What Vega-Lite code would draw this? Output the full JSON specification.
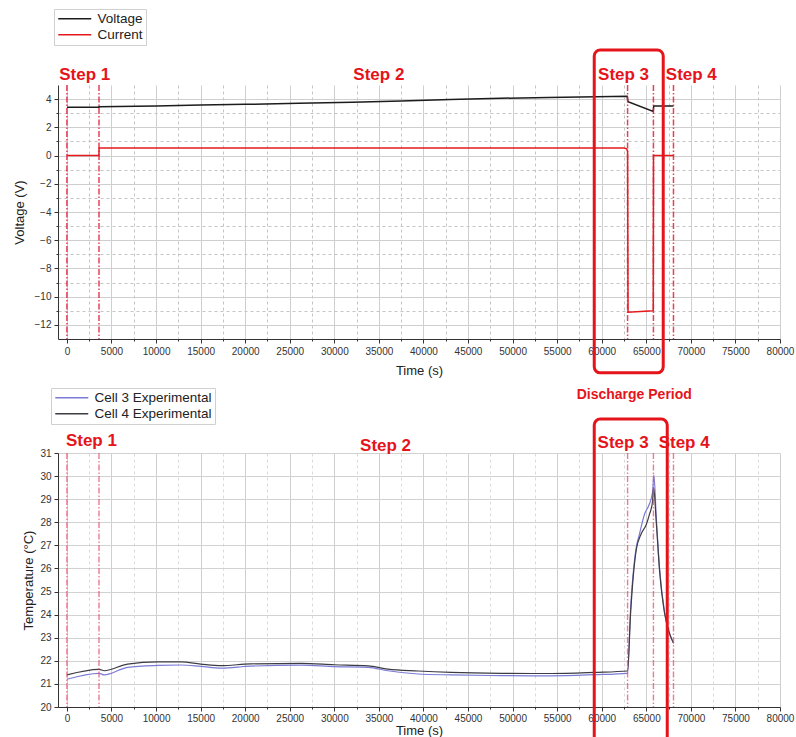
{
  "$schema": "https://vega.github.io/schema/vega-lite/v6.json",
  "padding": {"left": 13, "top": 8, "right": 4, "bottom": 0},
  "spacing": 10,
  "config": {
    "font": "Liberation Sans",
    "view": {"stroke": null},
    "axis": {
      "labelFontSize": 10,
      "labelColor": "#333333",
      "titleFontSize": 13,
      "titleFontWeight": "normal",
      "titleColor": "#222222",
      "domainColor": "#333333",
      "tickColor": "#333333",
      "gridColor": "#d2d2d2",
      "labelPadding": 3,
      "labelOverlap": false
    },
    "legend": {
      "strokeColor": "#d0d0d0",
      "padding": 3,
      "labelFontSize": 13.5,
      "labelColor": "#222222",
      "symbolType": "M-1,0H5",
      "symbolSize": 121,
      "symbolStrokeWidth": 1.5,
      "rowPadding": 1,
      "labelOffset": 27
    }
  },
  "resolve": {"scale": {"color": "independent"}, "legend": {"color": "independent"}},
  "datasets": {
    "steps": [{"t": 0}, {"t": 3600}, {"t": 62900}, {"t": 65800}, {"t": 68050}],
    "vi": [
      {"t": 0, "value": 3.42, "series": "Voltage"},
      {"t": 3590, "value": 3.42, "series": "Voltage"},
      {"t": 3610, "value": 3.46, "series": "Voltage"},
      {"t": 10000, "value": 3.52, "series": "Voltage"},
      {"t": 15000, "value": 3.58, "series": "Voltage"},
      {"t": 20000, "value": 3.63, "series": "Voltage"},
      {"t": 26000, "value": 3.7, "series": "Voltage"},
      {"t": 32000, "value": 3.78, "series": "Voltage"},
      {"t": 37500, "value": 3.87, "series": "Voltage"},
      {"t": 43000, "value": 3.97, "series": "Voltage"},
      {"t": 48700, "value": 4.06, "series": "Voltage"},
      {"t": 54000, "value": 4.12, "series": "Voltage"},
      {"t": 59400, "value": 4.17, "series": "Voltage"},
      {"t": 62850, "value": 4.21, "series": "Voltage"},
      {"t": 62950, "value": 3.82, "series": "Voltage"},
      {"t": 65780, "value": 3.12, "series": "Voltage"},
      {"t": 65830, "value": 3.52, "series": "Voltage"},
      {"t": 68050, "value": 3.52, "series": "Voltage"},
      {"t": 0, "value": 0, "series": "Current"},
      {"t": 3590, "value": 0, "series": "Current"},
      {"t": 3610, "value": 0.53, "series": "Current"},
      {"t": 62500, "value": 0.53, "series": "Current"},
      {"t": 62800, "value": 0.48, "series": "Current"},
      {"t": 62900, "value": 0.3, "series": "Current"},
      {"t": 62950, "value": -11.1, "series": "Current"},
      {"t": 65780, "value": -11.0, "series": "Current"},
      {"t": 65810, "value": 0, "series": "Current"},
      {"t": 68050, "value": 0, "series": "Current"}
    ],
    "temps": [
      {"t": 0, "temp": 21.2, "cell": "Cell 3 Experimental"},
      {"t": 3600, "temp": 21.46, "cell": "Cell 3 Experimental"},
      {"t": 4200, "temp": 21.39, "cell": "Cell 3 Experimental"},
      {"t": 6800, "temp": 21.72, "cell": "Cell 3 Experimental"},
      {"t": 10200, "temp": 21.8, "cell": "Cell 3 Experimental"},
      {"t": 12800, "temp": 21.82, "cell": "Cell 3 Experimental"},
      {"t": 15000, "temp": 21.76, "cell": "Cell 3 Experimental"},
      {"t": 17300, "temp": 21.68, "cell": "Cell 3 Experimental"},
      {"t": 20600, "temp": 21.77, "cell": "Cell 3 Experimental"},
      {"t": 26300, "temp": 21.81, "cell": "Cell 3 Experimental"},
      {"t": 30000, "temp": 21.75, "cell": "Cell 3 Experimental"},
      {"t": 33800, "temp": 21.72, "cell": "Cell 3 Experimental"},
      {"t": 36000, "temp": 21.57, "cell": "Cell 3 Experimental"},
      {"t": 39400, "temp": 21.43, "cell": "Cell 3 Experimental"},
      {"t": 43100, "temp": 21.39, "cell": "Cell 3 Experimental"},
      {"t": 48700, "temp": 21.36, "cell": "Cell 3 Experimental"},
      {"t": 54300, "temp": 21.35, "cell": "Cell 3 Experimental"},
      {"t": 59200, "temp": 21.4, "cell": "Cell 3 Experimental"},
      {"t": 62900, "temp": 21.46, "cell": "Cell 3 Experimental"},
      {"t": 63230, "temp": 24.2, "cell": "Cell 3 Experimental"},
      {"t": 63870, "temp": 26.9, "cell": "Cell 3 Experimental"},
      {"t": 64240, "temp": 27.5, "cell": "Cell 3 Experimental"},
      {"t": 64800, "temp": 28.35, "cell": "Cell 3 Experimental"},
      {"t": 65300, "temp": 28.75, "cell": "Cell 3 Experimental"},
      {"t": 65700, "temp": 29.3, "cell": "Cell 3 Experimental"},
      {"t": 65850, "temp": 30.05, "cell": "Cell 3 Experimental"},
      {"t": 66120, "temp": 28.2, "cell": "Cell 3 Experimental"},
      {"t": 66490, "temp": 26.0, "cell": "Cell 3 Experimental"},
      {"t": 67050, "temp": 24.1, "cell": "Cell 3 Experimental"},
      {"t": 67600, "temp": 23.2, "cell": "Cell 3 Experimental"},
      {"t": 68060, "temp": 22.76, "cell": "Cell 3 Experimental"},
      {"t": 0, "temp": 21.39, "cell": "Cell 4 Experimental"},
      {"t": 3600, "temp": 21.63, "cell": "Cell 4 Experimental"},
      {"t": 4200, "temp": 21.57, "cell": "Cell 4 Experimental"},
      {"t": 6800, "temp": 21.86, "cell": "Cell 4 Experimental"},
      {"t": 10200, "temp": 21.95, "cell": "Cell 4 Experimental"},
      {"t": 12800, "temp": 21.95, "cell": "Cell 4 Experimental"},
      {"t": 15000, "temp": 21.86, "cell": "Cell 4 Experimental"},
      {"t": 17300, "temp": 21.79, "cell": "Cell 4 Experimental"},
      {"t": 20600, "temp": 21.87, "cell": "Cell 4 Experimental"},
      {"t": 26300, "temp": 21.89, "cell": "Cell 4 Experimental"},
      {"t": 30000, "temp": 21.83, "cell": "Cell 4 Experimental"},
      {"t": 33800, "temp": 21.78, "cell": "Cell 4 Experimental"},
      {"t": 36000, "temp": 21.64, "cell": "Cell 4 Experimental"},
      {"t": 39400, "temp": 21.56, "cell": "Cell 4 Experimental"},
      {"t": 43100, "temp": 21.5, "cell": "Cell 4 Experimental"},
      {"t": 48700, "temp": 21.46, "cell": "Cell 4 Experimental"},
      {"t": 54300, "temp": 21.45, "cell": "Cell 4 Experimental"},
      {"t": 59200, "temp": 21.5, "cell": "Cell 4 Experimental"},
      {"t": 62900, "temp": 21.56, "cell": "Cell 4 Experimental"},
      {"t": 63230, "temp": 24.0, "cell": "Cell 4 Experimental"},
      {"t": 63870, "temp": 26.8, "cell": "Cell 4 Experimental"},
      {"t": 64430, "temp": 27.5, "cell": "Cell 4 Experimental"},
      {"t": 65000, "temp": 27.9, "cell": "Cell 4 Experimental"},
      {"t": 65360, "temp": 28.35, "cell": "Cell 4 Experimental"},
      {"t": 65700, "temp": 28.9, "cell": "Cell 4 Experimental"},
      {"t": 65820, "temp": 29.5, "cell": "Cell 4 Experimental"},
      {"t": 66120, "temp": 28.0, "cell": "Cell 4 Experimental"},
      {"t": 66490, "temp": 25.9, "cell": "Cell 4 Experimental"},
      {"t": 67050, "temp": 24.06, "cell": "Cell 4 Experimental"},
      {"t": 67600, "temp": 23.19, "cell": "Cell 4 Experimental"},
      {"t": 68060, "temp": 22.76, "cell": "Cell 4 Experimental"}
    ],
    "topNotes": [
      {"t": 2000, "level": 5.7, "note": "Step 1"},
      {"t": 35000, "level": 5.7, "note": "Step 2"},
      {"t": 62450, "level": 5.7, "note": "Step 3"},
      {"t": 70050, "level": 5.7, "note": "Step 4"}
    ],
    "bottomNotes": [
      {"t": 2750, "level": 31.5, "note": "Step 1"},
      {"t": 35750, "level": 31.3, "note": "Step 2"},
      {"t": 62400, "level": 31.45, "note": "Step 3"},
      {"t": 69250, "level": 31.45, "note": "Step 4"},
      {"t": 63650, "level": 33.5, "note": "Discharge Period"}
    ],
    "topBox": [{"t": 59160, "t2": 66900, "lo": -15.4, "hi": 7.48}],
    "bottomBox": [{"t": 59160, "t2": 67350, "lo": 18.0, "hi": 32.47}]
  },
  "vconcat": [
    {
      "width": 722,
      "height": 254,
      "layer": [
        {
          "data": {"name": "vi"},
          "mark": {"type": "line", "strokeWidth": 1.5, "interpolate": "linear"},
          "encoding": {
            "x": {
              "field": "t",
              "type": "quantitative",
              "title": "Time (s)",
              "scale": {"domain": [-1000, 80000], "nice": false, "zero": false},
              "axis": {
                "values": [0, 2500, 5000, 7500, 10000, 12500, 15000, 17500, 20000, 22500, 25000, 27500, 30000, 32500, 35000, 37500, 40000, 42500, 45000, 47500, 50000, 52500, 55000, 57500, 60000, 62500, 65000, 67500, 70000, 72500, 75000, 77500, 80000],
                "tickCount": 200,
                "format": "d",
                "labelExpr": "datum.value % 5000 === 0 ? datum.label : ''",
                "labelOverlap": false,
                "labelFlush": false,
                "gridDash": {"condition": {"test": "datum.value % 5000 === 0", "value": []}, "value": [3, 3]},
                "gridColor": {"condition": {"test": "datum.value % 5000 === 0", "value": "#cfcfcf"}, "value": "#c4c4c4"},
                "tickSize": {"condition": {"test": "datum.value % 5000 === 0", "value": 4}, "value": 2},
                "titlePadding": 8
              }
            },
            "y": {
              "field": "value",
              "type": "quantitative",
              "title": "Voltage (V)",
              "scale": {"domain": [-13, 5], "nice": false, "zero": false},
              "axis": {
                "values": [-12, -11, -10, -9, -8, -7, -6, -5, -4, -3, -2, -1, 0, 1, 2, 3, 4],
                "tickCount": 200,
                "format": "d",
                "labelExpr": "datum.value % 2 === 0 ? datum.label : ''",
                "labelOverlap": false,
                "gridDash": {"condition": {"test": "datum.value % 2 === 0", "value": []}, "value": [3, 3]},
                "gridColor": {"condition": {"test": "datum.value % 2 === 0", "value": "#cfcfcf"}, "value": "#c4c4c4"},
                "tickSize": {"condition": {"test": "datum.value % 2 === 0", "value": 4}, "value": 2},
                "titlePadding": 8
              }
            },
            "color": {
              "field": "series",
              "type": "nominal",
              "scale": {"domain": ["Voltage", "Current"], "range": ["#1c1c1c", "#e41a1c"]},
              "legend": {"title": null, "orient": "none", "legendX": -4, "legendY": -76}
            },
            "detail": {"field": "series"}
          }
        },
        {
          "data": {"name": "steps"},
          "mark": {"type": "rule", "color": "#e0203a", "strokeWidth": 1.5, "strokeDash": [6, 2, 1.5, 2], "opacity": 0.85},
          "encoding": {"x": {"field": "t", "type": "quantitative", "title": "Time (s)"}}
        },
        {
          "data": {"name": "topNotes"},
          "mark": {"type": "text", "color": "#e5141b", "fontSize": 17, "fontWeight": "bold", "align": "center", "baseline": "middle"},
          "encoding": {
            "x": {"field": "t", "type": "quantitative", "title": "Time (s)"},
            "y": {"field": "level", "type": "quantitative", "title": "Voltage (V)"},
            "text": {"field": "note"}
          }
        },
        {
          "data": {"name": "topBox"},
          "mark": {"type": "rect", "fill": null, "fillOpacity": 0, "stroke": "#e5141b", "strokeWidth": 3, "cornerRadius": 6},
          "encoding": {
            "x": {"field": "t", "type": "quantitative", "title": "Time (s)"},
            "x2": {"field": "t2"},
            "y": {"field": "lo", "type": "quantitative", "title": "Voltage (V)"},
            "y2": {"field": "hi"}
          }
        }
      ]
    },
    {
      "width": 722,
      "height": 254,
      "layer": [
        {
          "data": {"name": "temps"},
          "mark": {"type": "line", "strokeWidth": 1.2, "interpolate": "monotone"},
          "encoding": {
            "x": {
              "field": "t",
              "type": "quantitative",
              "title": "Time (s)",
              "scale": {"domain": [-1000, 80000], "nice": false, "zero": false},
              "axis": {
                "values": [0, 2500, 5000, 7500, 10000, 12500, 15000, 17500, 20000, 22500, 25000, 27500, 30000, 32500, 35000, 37500, 40000, 42500, 45000, 47500, 50000, 52500, 55000, 57500, 60000, 62500, 65000, 67500, 70000, 72500, 75000, 77500, 80000],
                "tickCount": 200,
                "format": "d",
                "labelExpr": "datum.value % 5000 === 0 ? datum.label : ''",
                "labelOverlap": false,
                "labelFlush": false,
                "labelPadding": 2,
                "gridDash": {"condition": {"test": "datum.value % 5000 === 0", "value": []}, "value": [3, 3]},
                "gridColor": {"condition": {"test": "datum.value % 5000 === 0", "value": "#cfcfcf"}, "value": "#dadada"},
                "tickSize": {"condition": {"test": "datum.value % 5000 === 0", "value": 4}, "value": 2},
                "titlePadding": 1
              }
            },
            "y": {
              "field": "temp",
              "type": "quantitative",
              "title": "Temperature (°C)",
              "scale": {"domain": [20, 31], "nice": false, "zero": false},
              "axis": {
                "values": [20, 21, 22, 23, 24, 25, 26, 27, 28, 29, 30, 31],
                "tickCount": 200,
                "format": "d",
                "labelOverlap": false,
                "tickSize": 4,
                "titlePadding": 4
              }
            },
            "color": {
              "field": "cell",
              "type": "nominal",
              "scale": {"domain": ["Cell 3 Experimental", "Cell 4 Experimental"], "range": ["#7b7bd6", "#3c3c44"]},
              "legend": {"title": null, "orient": "none", "legendX": -7, "legendY": -65}
            }
          }
        },
        {
          "data": {"name": "steps"},
          "mark": {"type": "rule", "color": "#e8506a", "strokeWidth": 1.4, "strokeDash": [6, 2, 1.5, 2], "opacity": 0.75},
          "encoding": {"x": {"field": "t", "type": "quantitative", "title": "Time (s)"}}
        },
        {
          "data": {"name": "bottomNotes"},
          "mark": {"type": "text", "color": "#e5141b", "fontSize": 17, "fontWeight": "bold", "align": "center", "baseline": "middle"},
          "encoding": {
            "x": {"field": "t", "type": "quantitative", "title": "Time (s)"},
            "y": {"field": "level", "type": "quantitative", "title": "Temperature (°C)"},
            "text": {"field": "note"},
            "size": {"condition": {"test": "datum.note === 'Discharge Period'", "value": 14}, "value": 17}
          }
        },
        {
          "data": {"name": "bottomBox"},
          "mark": {"type": "rect", "fill": null, "fillOpacity": 0, "stroke": "#e5141b", "strokeWidth": 3, "cornerRadius": 6},
          "encoding": {
            "x": {"field": "t", "type": "quantitative", "title": "Time (s)"},
            "x2": {"field": "t2"},
            "y": {"field": "lo", "type": "quantitative", "title": "Temperature (°C)"},
            "y2": {"field": "hi"}
          }
        }
      ]
    }
  ]
}
